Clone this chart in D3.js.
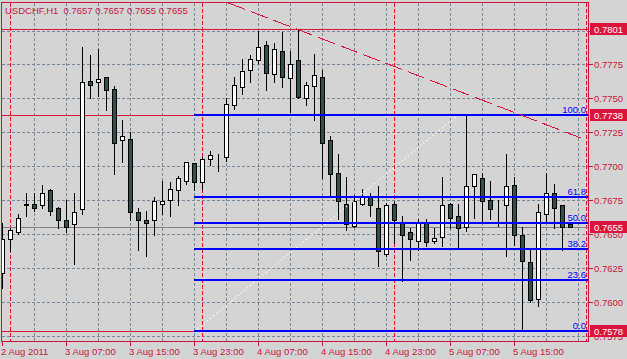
<!DOCTYPE html>
<html>
<head>
<meta charset="utf-8">
<script src="https://cdn.jsdelivr.net/npm/d3@7"></script>
<style>
  html, body { margin: 0; padding: 0; background: #d4d4d4; }
  svg { display: block; font-family: "Liberation Sans", Arial, sans-serif; }
</style>
</head>
<body>
<svg id="chart" width="627" height="359"></svg>
<script>
"use strict";

// USDCHF H1, one candle per hour from 2 Aug 2011 23:00 to 5 Aug 2011 22:00
var openP = [
    0.7621, 0.7646, 0.7651, 0.7672, 0.7672, 0.7671, 0.7682, 0.7669, 0.7660, 0.7657,
    0.7668, 0.7763, 0.7762, 0.7766, 0.7757, 0.7719, 0.7720, 0.7666, 0.7660, 0.7660,
    0.7672, 0.7675, 0.7682, 0.7689, 0.7702, 0.7688, 0.7705, 0.7705, 0.7707, 0.7745,
    0.7758, 0.7771, 0.7778, 0.7789, 0.7768, 0.7785, 0.7765, 0.7778, 0.7750, 0.7759,
    0.7766, 0.7719, 0.7695, 0.7672, 0.7656, 0.7672, 0.7677, 0.7669, 0.7635, 0.7672,
    0.7658, 0.7651, 0.7645, 0.7658, 0.7645, 0.7648, 0.7672, 0.7663, 0.7655, 0.7685,
    0.7691, 0.7675, 0.7669, 0.7671, 0.7686, 0.7649, 0.7629, 0.7602, 0.7665, 0.7680,
    0.7671, 0.7657
];
var highP = [
    0.7658, 0.7654, 0.7665, 0.7680, 0.7680, 0.7686, 0.7683, 0.7670, 0.7675, 0.7680,
    0.7788, 0.7782, 0.7786, 0.7766, 0.7759, 0.7734, 0.7725, 0.7669, 0.7667, 0.7677,
    0.7689, 0.7688, 0.7693, 0.7703, 0.7702, 0.7707, 0.7711, 0.7709, 0.7750, 0.7766,
    0.7779, 0.7782, 0.7800, 0.7792, 0.7791, 0.7799, 0.7785, 0.7801, 0.7762, 0.7783,
    0.7771, 0.7722, 0.7709, 0.7692, 0.7679, 0.7683, 0.7680, 0.7685, 0.7673, 0.7674,
    0.7663, 0.7654, 0.7661, 0.7661, 0.7654, 0.7692, 0.7673, 0.7672, 0.7738, 0.7694,
    0.7695, 0.7689, 0.7675, 0.7709, 0.7692, 0.7655, 0.7639, 0.7672, 0.7695, 0.7687,
    0.7671, 0.7657
];
var lowP = [
    0.7610, 0.7637, 0.7650, 0.7663, 0.7667, 0.7669, 0.7664, 0.7654, 0.7651, 0.7628,
    0.7665, 0.7750, 0.7752, 0.7741, 0.7694, 0.7703, 0.7660, 0.7638, 0.7634, 0.7649,
    0.7665, 0.7663, 0.7671, 0.7687, 0.7682, 0.7682, 0.7701, 0.7696, 0.7704, 0.7742,
    0.7753, 0.7762, 0.7776, 0.7756, 0.7762, 0.7758, 0.7740, 0.7750, 0.7745, 0.7734,
    0.7691, 0.7679, 0.7661, 0.7653, 0.7655, 0.7671, 0.7663, 0.7626, 0.7634, 0.7643,
    0.7615, 0.7631, 0.7638, 0.7641, 0.7643, 0.7641, 0.7654, 0.7640, 0.7652, 0.7662,
    0.7658, 0.7661, 0.7656, 0.7634, 0.7642, 0.7578, 0.7600, 0.7597, 0.7658, 0.7654,
    0.7638, 0.7655
];
var closeP = [
    0.7646, 0.7653, 0.7662, 0.7671, 0.7669, 0.7680, 0.7667, 0.7660, 0.7655, 0.7666,
    0.7762, 0.7760, 0.7764, 0.7756, 0.7717, 0.7722, 0.7666, 0.7660, 0.7658, 0.7674,
    0.7674, 0.7683, 0.7691, 0.7703, 0.7688, 0.7705, 0.7708, 0.7705, 0.7746, 0.7760,
    0.7770, 0.7779, 0.7788, 0.7769, 0.7786, 0.7766, 0.7775, 0.7751, 0.7760, 0.7767,
    0.7717, 0.7694, 0.7674, 0.7657, 0.7674, 0.7677, 0.7671, 0.7637, 0.7671, 0.7660,
    0.7649, 0.7646, 0.7658, 0.7644, 0.7647, 0.7671, 0.7662, 0.7654, 0.7685, 0.7694,
    0.7674, 0.7668, 0.7669, 0.7685, 0.7649, 0.7630, 0.7601, 0.7666, 0.7680, 0.7669,
    0.7655, 0.7655
];

// time axis: bar index -> label
var timeTickBars = [0, 8, 16, 24, 32, 40, 48, 56, 64];
var timeTickLabels = ["2 Aug 2011", "3 Aug 07:00", "3 Aug 15:00", "3 Aug 23:00",
                      "4 Aug 07:00", "4 Aug 15:00", "4 Aug 23:00", "5 Aug 07:00", "5 Aug 15:00"];
// bars where a new day starts (period separators)
var daySeparators = [1, 25, 49, 73];

// grid levels and the labelled ones (0.7800 sits under the 0.7801 marker)
var priceGrid = [0.7575, 0.7600, 0.7625, 0.7650, 0.7675, 0.7700, 0.7725, 0.7750, 0.7775, 0.7800];
var priceLabels = [0.7575, 0.7600, 0.7625, 0.7650, 0.7675, 0.7700, 0.7725, 0.7750, 0.7775];

// horizontal line objects and highlighted prices
var hLines = [0.7801, 0.7738, 0.7578];
var bidPrice = 0.7655;
var markedPrices = [0.7801, 0.7738, 0.7655, 0.7578];

// fibonacci retracement
var fibFrom = { bar: 24, price: 0.7578 };
var fibTo = { bar: 57, price: 0.7738 };
var fibLevels = [0, 23.6, 38.2, 50, 61.8, 100];

// dashed trend line
var trendFrom = { bar: 28.25, price: 0.78203 };
var trendTo = { bar: 72.4, price: 0.77205 };

var title = "USDCHF,H1  0.7657 0.7657 0.7655 0.7655";

var RED = "#c8143c";
var BOX = "#dc143c";
var BLUE = "#0000ff";
var GRID = "#778899";

var PLOT = { LEFT: 1.5, RIGHT: 588.5, TOP: 2.5, BOTTOM: 341.5 };

var svg = d3.select("#chart");

var x = d3.scaleLinear().domain([0, 73]).range([2.5, 586.5]);
var y = d3.scaleLinear().domain([0.7575, 0.7800]).range([335.5, 30.5]);

var candles = openP.map(function(o, i) {
    return { i: i, o: o, h: highP[i], l: lowP[i], c: closeP[i] };
});

svg.append("rect").attr("width", 627).attr("height", 359).attr("fill", "#d4d4d4");

svg.append("defs").append("clipPath").attr("id", "plotClip")
    .append("rect")
    .attr("x", PLOT.LEFT).attr("y", PLOT.TOP)
    .attr("width", PLOT.RIGHT - PLOT.LEFT).attr("height", PLOT.BOTTOM - PLOT.TOP);

var plot = svg.append("g").attr("clip-path", "url(#plotClip)");

// grid
var gridBars = d3.range(4, 73, 4);
plot.append("g").selectAll("line").data(gridBars).enter().append("line")
    .attr("x1", function(d) { return x(d); }).attr("x2", function(d) { return x(d); })
    .attr("y1", PLOT.TOP).attr("y2", PLOT.BOTTOM)
    .attr("stroke", GRID).attr("stroke-dasharray", "3,2")
    .attr("shape-rendering", "crispEdges");

plot.append("g").selectAll("line").data(priceGrid).enter().append("line")
    .attr("x1", PLOT.LEFT).attr("x2", PLOT.RIGHT)
    .attr("y1", function(d) { return Math.round(y(d)) + 0.5; })
    .attr("y2", function(d) { return Math.round(y(d)) + 0.5; })
    .attr("stroke", GRID).attr("stroke-dasharray", "3,2")
    .attr("shape-rendering", "crispEdges");

// day separators
plot.append("g").selectAll("line").data(daySeparators).enter().append("line")
    .attr("x1", function(d) { return x(d); }).attr("x2", function(d) { return x(d); })
    .attr("y1", PLOT.TOP).attr("y2", PLOT.BOTTOM)
    .attr("stroke", "#e0102c").attr("stroke-dasharray", "4,2")
    .attr("shape-rendering", "crispEdges");

// horizontal line objects
plot.append("g").selectAll("line").data(hLines).enter().append("line")
    .attr("x1", PLOT.LEFT).attr("x2", PLOT.RIGHT)
    .attr("y1", function(d) { return Math.round(y(d)) + 0.5; })
    .attr("y2", function(d) { return Math.round(y(d)) + 0.5; })
    .attr("stroke", BOX).attr("shape-rendering", "crispEdges");

// bid line
plot.append("line")
    .attr("x1", PLOT.LEFT).attr("x2", PLOT.RIGHT)
    .attr("y1", Math.round(y(bidPrice)) + 0.5).attr("y2", Math.round(y(bidPrice)) + 0.5)
    .attr("stroke", "#808080").attr("shape-rendering", "crispEdges");

// candles
var cg = plot.append("g").selectAll("g").data(candles).enter().append("g");

cg.append("line")
    .attr("x1", function(d) { return x(d.i); }).attr("x2", function(d) { return x(d.i); })
    .attr("y1", function(d) { return Math.round(y(d.h)); })
    .attr("y2", function(d) { return Math.round(y(d.l)) + 1; })
    .attr("stroke", "#000").attr("shape-rendering", "crispEdges");

cg.append("rect")
    .attr("x", function(d) { return x(d.i) - 2; })
    .attr("y", function(d) { return Math.round(y(Math.max(d.o, d.c))) + 0.5; })
    .attr("width", 4)
    .attr("height", function(d) {
        return Math.max(0, Math.round(y(Math.min(d.o, d.c))) - Math.round(y(Math.max(d.o, d.c))));
    })
    .attr("fill", function(d) { return d.c >= d.o ? "#ffffff" : "#2f4f4f"; })
    .attr("stroke", "#000").attr("shape-rendering", "crispEdges");

// fibonacci: dotted diagonal and level lines
plot.append("line")
    .attr("x1", x(fibFrom.bar)).attr("y1", y(fibFrom.price))
    .attr("x2", x(fibTo.bar)).attr("y2", y(fibTo.price))
    .attr("stroke", "#fffbe6").attr("stroke-width", 1.2).attr("stroke-dasharray", "1.5,2.5");

var fibRange = fibTo.price - fibFrom.price;
var fibPrice = function(lv) { return fibFrom.price + fibRange * lv / 100; };

plot.append("g").selectAll("line").data(fibLevels).enter().append("line")
    .attr("x1", x(fibFrom.bar) - 0.5).attr("x2", PLOT.RIGHT)
    .attr("y1", function(d) { return Math.round(y(fibPrice(d))); })
    .attr("y2", function(d) { return Math.round(y(fibPrice(d))); })
    .attr("stroke", BLUE).attr("stroke-width", 2).attr("shape-rendering", "crispEdges");

plot.append("g").selectAll("text").data(fibLevels).enter().append("text")
    .attr("x", 586).attr("y", function(d) { return Math.round(y(fibPrice(d))) - 2; })
    .attr("text-anchor", "end").attr("fill", BLUE).attr("font-size", "9.5px")
    .text(function(d) { return d.toFixed(1); });

// trend line
plot.append("line")
    .attr("x1", x(trendFrom.bar)).attr("y1", y(trendFrom.price))
    .attr("x2", x(trendTo.bar)).attr("y2", y(trendTo.price))
    .attr("stroke", BOX).attr("stroke-dasharray", "18,6")
    .attr("shape-rendering", "crispEdges");

// frame
svg.append("rect")
    .attr("x", PLOT.LEFT).attr("y", PLOT.TOP)
    .attr("width", PLOT.RIGHT - PLOT.LEFT).attr("height", PLOT.BOTTOM - PLOT.TOP)
    .attr("fill", "none").attr("stroke", RED).attr("shape-rendering", "crispEdges");

// price axis
var pa = svg.append("g");
pa.selectAll("line").data(priceGrid).enter().append("line")
    .attr("x1", PLOT.RIGHT).attr("x2", PLOT.RIGHT + 4)
    .attr("y1", function(d) { return Math.round(y(d)) + 0.5; })
    .attr("y2", function(d) { return Math.round(y(d)) + 0.5; })
    .attr("stroke", RED).attr("shape-rendering", "crispEdges");
pa.selectAll("text").data(priceLabels).enter().append("text")
    .attr("x", 594).attr("y", function(d) { return Math.round(y(d)) + 3.5; })
    .attr("fill", RED).attr("font-size", "9.5px")
    .text(function(d) { return d.toFixed(4); });

var mk = svg.append("g").selectAll("g").data(markedPrices).enter().append("g");
mk.append("rect")
    .attr("x", 590).attr("y", function(d) { return Math.round(y(d)) - 6; })
    .attr("width", 37).attr("height", 12).attr("fill", BOX);
mk.append("text")
    .attr("x", 594).attr("y", function(d) { return Math.round(y(d)) + 3.5; })
    .attr("fill", "#ffffff").attr("font-size", "9.5px")
    .text(function(d) { return d.toFixed(4); });

// time axis
var ta = svg.append("g");
ta.selectAll("line").data(timeTickBars).enter().append("line")
    .attr("x1", function(d) { return x(d); }).attr("x2", function(d) { return x(d); })
    .attr("y1", PLOT.BOTTOM).attr("y2", PLOT.BOTTOM + 4)
    .attr("stroke", RED).attr("shape-rendering", "crispEdges");
ta.selectAll("text").data(timeTickBars).enter().append("text")
    .attr("x", function(d) { return x(d) - 1.5; }).attr("y", 354.5)
    .attr("fill", RED).attr("font-size", "9.5px")
    .text(function(d, i) { return timeTickLabels[i]; });

// title
svg.append("text").attr("x", 5).attr("y", 13.5)
    .attr("fill", RED).attr("font-size", "9.5px")
    .attr("xml:space", "preserve").style("white-space", "pre")
    .text(title);
</script>
</body>
</html>
